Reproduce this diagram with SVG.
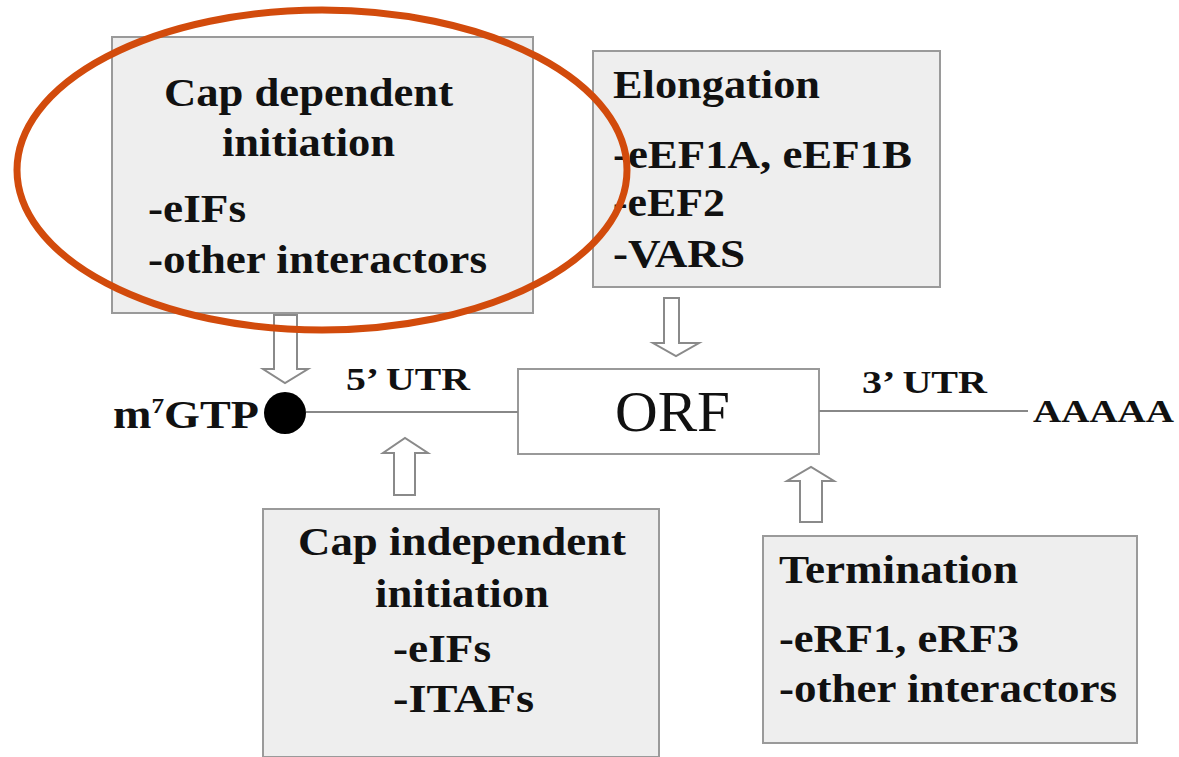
<svg xmlns="http://www.w3.org/2000/svg" width="1179" height="757" viewBox="0 0 1179 757">
<style>
.box{fill:#eeeeee;stroke:#9a9a9a;stroke-width:2}
.t{font-family:"Liberation Serif","Times New Roman",serif;font-weight:bold;font-size:40px;fill:#111}
.lbl{font-family:"Liberation Serif","Times New Roman",serif;font-weight:bold;font-size:32px;fill:#111}
.arrow{fill:#ffffff;stroke:#8a8a8a;stroke-width:2;stroke-linejoin:miter}
.line{stroke:#888;stroke-width:2;fill:none}
</style>
<rect width="1179" height="757" fill="#ffffff"/>

<g id="cap-dependent">
<rect class="box" x="112" y="37" width="421" height="276"/>
<text class="t" x="164" y="106" textLength="289" lengthAdjust="spacingAndGlyphs">Cap dependent</text>
<text class="t" x="222" y="156" textLength="173" lengthAdjust="spacingAndGlyphs">initiation</text>
<text class="t" x="148" y="222" textLength="98" lengthAdjust="spacingAndGlyphs">-eIFs</text>
<text class="t" x="148" y="273" textLength="339" lengthAdjust="spacingAndGlyphs">-other interactors</text>
</g>

<g id="elongation">
<rect class="box" x="593" y="51" width="347" height="236"/>
<text class="t" x="613" y="98" textLength="207" lengthAdjust="spacingAndGlyphs">Elongation</text>
<text class="t" x="613" y="168" textLength="299" lengthAdjust="spacingAndGlyphs">-eEF1A, eEF1B</text>
<text class="t" x="613" y="216" textLength="112" lengthAdjust="spacingAndGlyphs">-eEF2</text>
<text class="t" x="613" y="267" textLength="132" lengthAdjust="spacingAndGlyphs">-VARS</text>
</g>

<g id="cap-independent">
<rect class="box" x="263" y="509" width="396" height="248"/>
<text class="t" x="298" y="555" textLength="328" lengthAdjust="spacingAndGlyphs">Cap independent</text>
<text class="t" x="375" y="607" textLength="174" lengthAdjust="spacingAndGlyphs">initiation</text>
<text class="t" x="393" y="662" textLength="98" lengthAdjust="spacingAndGlyphs">-eIFs</text>
<text class="t" x="393" y="712" textLength="141" lengthAdjust="spacingAndGlyphs">-ITAFs</text>
</g>

<g id="termination">
<rect class="box" x="763" y="536" width="374" height="207"/>
<text class="t" x="779" y="583" textLength="239" lengthAdjust="spacingAndGlyphs">Termination</text>
<text class="t" x="779" y="652" textLength="240" lengthAdjust="spacingAndGlyphs">-eRF1, eRF3</text>
<text class="t" x="779" y="702" textLength="338" lengthAdjust="spacingAndGlyphs">-other interactors</text>
</g>

<g id="orf">
<rect x="518" y="369" width="301" height="85" fill="#ffffff" stroke="#999" stroke-width="2"/>
<text x="615" y="431" font-family="'Liberation Serif','Times New Roman',serif" font-size="56" fill="#111" textLength="115" lengthAdjust="spacingAndGlyphs">ORF</text>
</g>

<g id="cap">
<circle cx="285" cy="413" r="21" fill="#000"/>
<text class="t" x="113" y="428" textLength="146" lengthAdjust="spacingAndGlyphs">m<tspan font-size="22" dy="-15">7</tspan><tspan dy="15">GTP</tspan></text>
</g>

<g id="polyA">
<text class="lbl" x="1033" y="422" font-weight="normal" textLength="141" lengthAdjust="spacingAndGlyphs">AAAAA</text>
</g>

<g id="connectors">
<line class="line" x1="306" y1="412" x2="518" y2="412"/>
<line class="line" x1="819" y1="411" x2="1028" y2="411"/>
<text class="lbl" x="346" y="390" textLength="124" lengthAdjust="spacingAndGlyphs">5’ UTR</text>
<text class="lbl" x="862" y="393" textLength="125" lengthAdjust="spacingAndGlyphs">3’ UTR</text>
<polygon class="arrow" points="274,315 297,315 297,369 308,369 285,383 263,369 274,369"/>
<polygon class="arrow" points="664,298 679,298 679,343 699,343 676,356 653,343 664,343"/>
<polygon class="arrow" points="394,495 415,495 415,453 428,453 405,438 383,453 394,453"/>
<polygon class="arrow" points="800,522 822,522 822,481 834,481 811,467 787,481 800,481"/>
</g>

<ellipse id="highlight" cx="322" cy="170" rx="305" ry="160" fill="none" stroke="#d24b0c" stroke-width="7"/>
</svg>
